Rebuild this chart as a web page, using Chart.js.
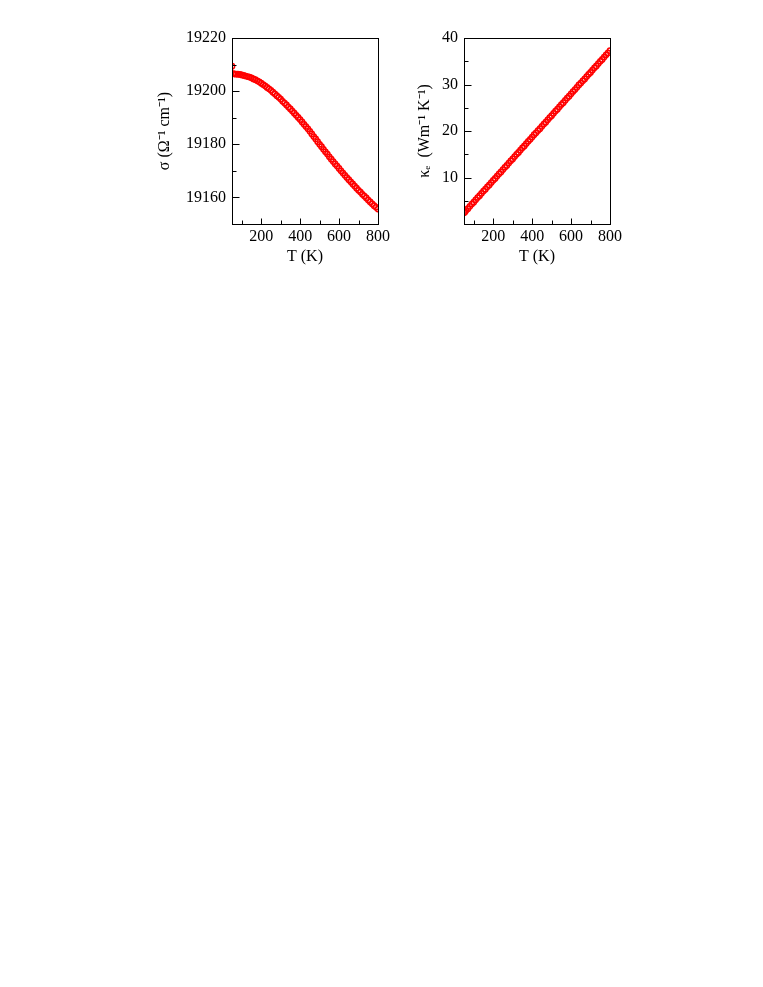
<!DOCTYPE html>
<html>
<head>
<meta charset="utf-8">
<script src="https://cdn.jsdelivr.net/npm/chart.js@4.4.1/dist/chart.umd.min.js"></script>
<style>
  html, body { margin: 0; padding: 0; background: #ffffff; }
  body { width: 763px; height: 987px; position: relative; overflow: hidden; }
  canvas { position: absolute; }
</style>
</head>
<body>
<canvas id="cSigma" width="260" height="260" style="left:140px;top:20px;"></canvas>
<canvas id="cKappa" width="260" height="260" style="left:380px;top:20px;"></canvas>
<script>
// ---- data ----
const temperatures = [50, 55, 60, 70, 80, 90, 100, 110, 120, 130, 140, 150, 160, 170, 180, 190,
  200, 210, 220, 230, 240, 250, 260, 270, 280, 290, 300, 310, 320, 330, 340, 350, 360, 370, 380, 390,
  400, 410, 420, 430, 440, 450, 460, 470, 480, 490, 500, 510, 520, 530, 540, 550, 560, 570, 580, 590,
  600, 610, 620, 630, 640, 650, 660, 670, 680, 690, 700, 710, 720, 730, 740, 750, 760, 770, 780, 790, 800];

const sigma = [19209.4, 19206.6, 19206.5, 19206.4, 19206.4, 19206.3, 19206.1, 19205.9, 19205.7, 19205.5,
  19205.3, 19205.0, 19204.6, 19204.3, 19203.9, 19203.5, 19203.0, 19202.5, 19202.0, 19201.4,
  19200.9, 19200.3, 19199.6, 19199.0, 19198.3, 19197.7, 19197.0, 19196.2, 19195.5, 19194.8,
  19194.0, 19193.3, 19192.5, 19191.7, 19190.9, 19190.1, 19189.3, 19188.4, 19187.5, 19186.7,
  19185.8, 19184.9, 19183.9, 19182.9, 19182.0, 19181.0, 19180.0, 19179.1, 19178.1, 19177.2,
  19176.3, 19175.3, 19174.4, 19173.5, 19172.6, 19171.8, 19170.9, 19170.0, 19169.2, 19168.3,
  19167.5, 19166.7, 19165.9, 19165.1, 19164.3, 19163.5, 19162.7, 19162.0, 19161.2, 19160.5,
  19159.8, 19159.0, 19158.3, 19157.6, 19156.9, 19156.3, 19155.6];

const kappaE = [2.4, 2.6, 2.9, 3.3, 3.8, 4.3, 4.7, 5.2, 5.7, 6.1, 6.6, 7.1, 7.5, 8.0, 8.4, 8.9,
  9.4, 9.8, 10.3, 10.8, 11.2, 11.7, 12.2, 12.6, 13.1, 13.6, 14.0, 14.5, 15.0, 15.4, 15.9, 16.4,
  16.8, 17.3, 17.8, 18.2, 18.7, 19.2, 19.6, 20.1, 20.5, 21.0, 21.5, 21.9, 22.4, 22.9, 23.3, 23.8,
  24.3, 24.7, 25.2, 25.7, 26.1, 26.6, 27.1, 27.5, 28.0, 28.5, 28.9, 29.4, 29.9, 30.3, 30.8, 31.2,
  31.7, 32.2, 32.6, 33.1, 33.6, 34.0, 34.5, 35.0, 35.4, 35.9, 36.4, 36.8, 37.3];

// ---- tick labels ----
const xMajorTicks = [200, 400, 600, 800];
const xMinorTicks = [100, 300, 500, 700];
const sigmaMajorTicks = [19160, 19180, 19200, 19220];
const sigmaMinorTicks = [19170, 19190, 19210];
const kappaMajorTicks = [10, 20, 30, 40];
const kappaMinorTicks = [5, 15, 25, 35];

const sigmaTitle = 'σ (Ω⁻¹ cm⁻¹)';
const kappaTitle = 'κₑ  (Wm⁻¹ K⁻¹)';
const xTitle = 'T (K)';

// ---- rendering ----
const FONT = { family: '"Liberation Serif", "Times New Roman", serif', size: 16 };

function framePlugin(xMinor, yMajor, yMinor) {
  return {
    id: 'frame',
    afterDraw(chart) {
      const ctx = chart.ctx;
      const a = chart.chartArea;
      const xs = chart.scales.x, ys = chart.scales.y;
      ctx.save();
      ctx.strokeStyle = '#000';
      ctx.lineWidth = 1;
      const L = Math.round(a.left) + 0.5, R = Math.round(a.right) + 0.5;
      const T = Math.round(a.top) + 0.5, B = Math.round(a.bottom) + 0.5;
      ctx.strokeRect(L, T, R - L, B - T);
      ctx.beginPath();
      xMajorTicks.forEach(v => { const p = Math.round(xs.getPixelForValue(v)) + 0.5; ctx.moveTo(p, B); ctx.lineTo(p, B - 6); });
      xMinor.forEach(v => { const p = Math.round(xs.getPixelForValue(v)) + 0.5; ctx.moveTo(p, B); ctx.lineTo(p, B - 4); });
      yMajor.forEach(v => { const p = Math.round(ys.getPixelForValue(v)) + 0.5; ctx.moveTo(L, p); ctx.lineTo(L + 7, p); });
      yMinor.forEach(v => { const p = Math.round(ys.getPixelForValue(v)) + 0.5; ctx.moveTo(L, p); ctx.lineTo(L + 4, p); });
      ctx.stroke();
      ctx.restore();
    }
  };
}

function makeChart(id, yValues, yMin, yMax, yMajor, yMinor, yTitle, yWidth, titlePadTop, rightPad) {
  const pts = temperatures.map((t, i) => ({ x: t, y: yValues[i] }));
  return new Chart(document.getElementById(id), {
    type: 'scatter',
    data: {
      datasets: [{
        data: pts,
        showLine: false,
        pointStyle: 'circle',
        pointRadius: 2.6,
        pointBorderWidth: 1.5,
        pointBorderColor: '#ff0000',
        pointBackgroundColor: 'rgba(255,255,255,0)'
      }]
    },
    options: {
      responsive: false,
      animation: false,
      devicePixelRatio: 1,
      layout: { padding: { left: 0, top: 18, right: rightPad, bottom: 14 } },
      plugins: { legend: { display: false }, tooltip: { enabled: false } },
      scales: {
        x: {
          type: 'linear', min: 50, max: 800,
          grid: { display: false, drawTicks: false },
          border: { display: false },
          afterBuildTicks: s => { s.ticks = xMajorTicks.map(v => ({ value: v })); },
          afterFit: s => { s.height = 42; },
          ticks: { color: '#000', font: FONT, padding: 3, maxRotation: 0, autoSkip: false, callback: v => String(v) },
          title: { display: true, text: xTitle, color: '#000', font: FONT, padding: { top: 0, bottom: 0 } }
        },
        y: {
          type: 'linear', min: yMin, max: yMax,
          grid: { display: false, drawTicks: false },
          border: { display: false },
          afterBuildTicks: s => { s.ticks = yMajor.map(v => ({ value: v })); },
          afterFit: s => { s.width = yWidth; },
          ticks: { color: '#000', font: FONT, padding: 6, autoSkip: false, callback: v => String(v) },
          title: { display: true, text: yTitle, color: '#000', font: FONT, padding: { top: titlePadTop, bottom: 0 } }
        }
      }
    },
    plugins: [framePlugin(xMinorTicks, yMajor, yMinor)]
  });
}

makeChart('cSigma', sigma, 19150, 19220, sigmaMajorTicks, sigmaMinorTicks, sigmaTitle, 92, 15, 22);
makeChart('cKappa', kappaE, 0, 40, kappaMajorTicks, kappaMinorTicks, kappaTitle, 84, 35, 30);
</script>
</body>
</html>
